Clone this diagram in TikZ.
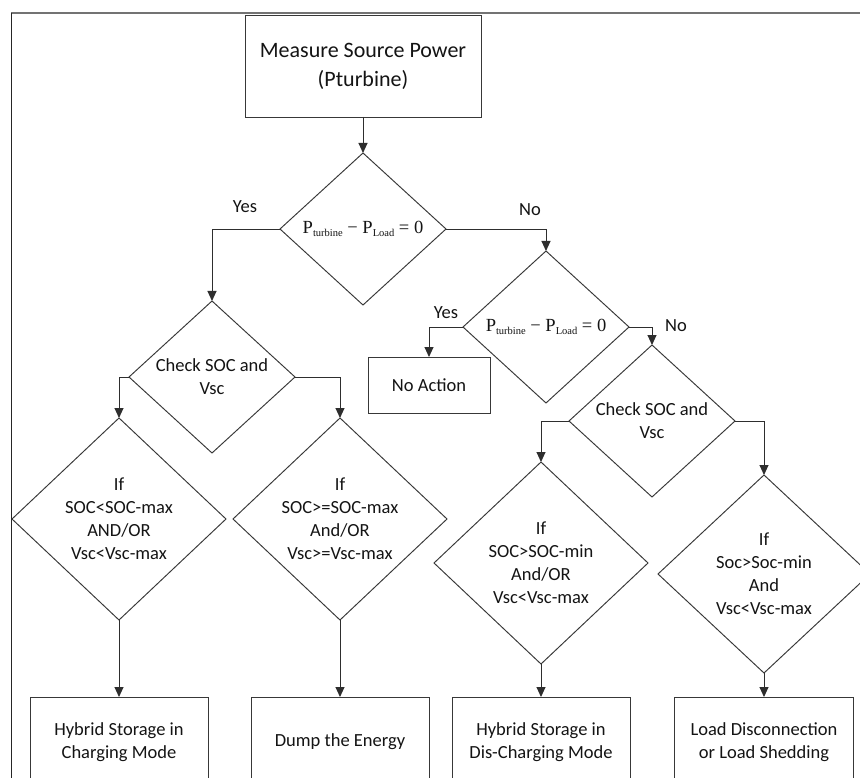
\documentclass[tikz,border=0pt]{standalone}
\usepackage{fontspec}
\setmainfont{Carlito}
\newfontfamily\eqfont{Liberation Serif}
\usetikzlibrary{shapes.geometric,arrows.meta}
% lowered, smaller index text for the power balance condition
\newcommand\lowidx[1]{\raisebox{-3.5pt}{\fontsize{10.5}{10.5}\selectfont #1}}
\newcommand\balance{{\eqfont P\lowidx{turbine} − P\lowidx{Load} = 0}}
\begin{document}
\begin{tikzpicture}[x=1pt,y=-1pt,
  every node/.style={text=black!92, font=\fontsize{18.5}{23}\selectfont},
  box/.style={draw=black!78, line width=0.95pt, rectangle, inner sep=0pt,
    outer sep=0pt, align=center},
  outbox/.style={box, minimum width=178pt, minimum height=90pt},
  decision/.style={draw=black!78, line width=0.95pt, diamond, inner sep=0pt,
    outer sep=0pt, align=center, minimum width=166pt, minimum height=152pt},
  bigdecision/.style={decision, minimum width=214pt, minimum height=202pt},
  flow/.style={draw=black!82, line width=0.95pt, -{Triangle[width=9pt,length=10pt]}},
  tag/.style={inner sep=0pt}]
\clip (0,0) rectangle (860,778);
\fill[white] (0,0) rectangle (860,778);

% outer frame
\draw[black!55, line width=1.6pt] (11,13) -- (880,13);
\draw[black!85, line width=0.9pt] (11,13) -- (11,800);

% source measurement
\node[box, minimum width=236pt, minimum height=102pt,
  font=\fontsize{22}{29}\selectfont] (src) at (363,66) {Measure Source Power\\(Pturbine)};

% decisions on the power balance
\node[decision] (d1) at (363,229) {\balance};
\node[decision] (d2) at (546,327) {\balance};
\node[box, minimum width=122pt, minimum height=56pt] (noact) at (429,385) {No Action};

% storage checks
\node[decision] (chkL) at (212,377) {Check SOC and\\Vsc};
\node[decision] (chkR) at (652,421) {Check SOC and\\Vsc};

% conditions
\node[bigdecision] (cL1) at (119,519) {If\\SOC<SOC-max\\AND/OR\\Vsc<Vsc-max};
\node[bigdecision] (cL2) at (340,519) {If\\SOC>=SOC-max\\And/OR\\Vsc>=Vsc-max};
\node[bigdecision] (cR1) at (541,563) {If\\SOC>SOC-min\\And/OR\\Vsc<Vsc-max};
\node[bigdecision, minimum width=212pt, minimum height=198pt] (cR2) at (764,574)
  {If\\Soc>Soc-min\\And\\Vsc<Vsc-max};

% actions
\node[outbox] (out1) at (119,742) {Hybrid Storage in\\Charging Mode};
\node[outbox] (out2) at (340,742) {Dump the Energy};
\node[outbox] (out3) at (541,742) {Hybrid Storage in\\Dis-Charging Mode};
\node[outbox, minimum width=179pt] (out4) at (764,742) {Load Disconnection\\or Load Shedding};

% connectors
\draw[flow] (src) -- (d1);
\draw[flow] (d1.west) -| (chkL.north);
\draw[flow] (d1.east) -| (d2.north);
\draw[flow] (d2.west) -| (noact.north);
\draw[flow] (d2.east) -| (chkR.north);
\draw[flow] (chkL.west) -| (cL1.north);
\draw[flow] (chkL.east) -| (cL2.north);
\draw[flow] (chkR.west) -| (cR1.north);
\draw[flow] (chkR.east) -| (cR2.north);
\draw[flow] (cL1.south) -- (out1.north);
\draw[flow] (cL2.south) -- (out2.north);
\draw[flow] (cR1.south) -- (out3.north);
\draw[flow] (cR2.south) -- (out4.north);

% branch labels
\node[tag] (yes1) at (245,207) {Yes};
\node[tag] (no1) at (530,210) {No};
\node[tag] (yes2) at (446,313) {Yes};
\node[tag] (no2) at (676,326) {No};
\end{tikzpicture}
\end{document}
